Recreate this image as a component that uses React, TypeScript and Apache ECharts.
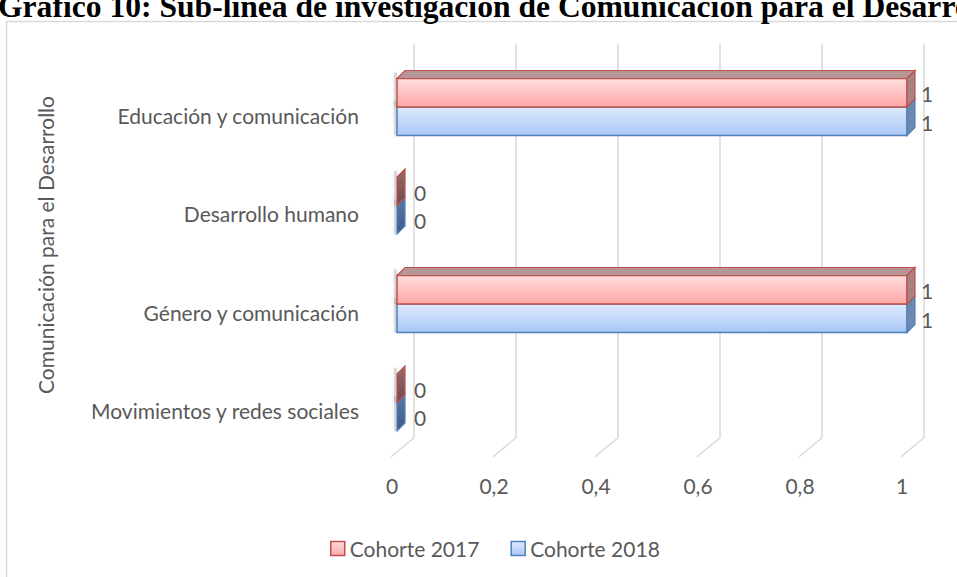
import React, { useEffect, useRef } from "react";
import * as echarts from "echarts";

const titleText = "Gráfico 10: Sub-línea de investigación de Comunicación para el Desarrollo";
const axisTitle = "Comunicación para el Desarrollo";
const categories = [
  "Educación y comunicación",
  "Desarrollo humano",
  "Género y comunicación",
  "Movimientos y redes sociales",
];
const seriesNames = ["Cohorte 2017", "Cohorte 2018"];
const cohorte2017 = [1, 0, 1, 0];
const cohorte2018 = [1, 0, 1, 0];
const ticks = [0, 0.2, 0.4, 0.6, 0.8, 1];

const FONT = "Lato";
const FS = 21;
const TXT = "#595959";
const TITLE_FONT = `bold 31.6px "Liberation Serif"`;
// 3D offsets
const DX = 8, DY = -8; // bar depth
const BX = 17, BY = -14; // back wall
const FX = -6, FY = 5; // floor front edge
const BAR_H = 28.5;

const palettes = [
  {
    front: ["#ffdcdc", "#ffa8a8"],
    stroke: "#c0504d",
    top: "#b69696",
    side: "#a88282",
    zeroSide: ["#9a6a6a", "#6e4a4a"],
  },
  {
    front: ["#dfeafd", "#a8c7f5"],
    stroke: "#4f81bd",
    top: "#8ea3c0",
    side: "#6d89b0",
    zeroSide: ["#5a7aa6", "#3c5a85"],
  },
];

function barRender(pos: number) {
  const pal = palettes[pos];
  return (params: any, api: any) => {
    const v = api.value(0);
    const c = api.value(1);
    const p0 = api.coord([0, c]);
    const p1 = api.coord([v, c]);
    const yTop = pos === 0 ? p0[1] - BAR_H : p0[1];
    const yBot = yTop + BAR_H;
    const x0 = p0[0];
    const x1 = p1[0];
    const children: any[] = [];
    const zero = x1 - x0 < 0.5;
    children.push({
      type: "rect",
      shape: { x: x0 - 3, y: yTop - 6, width: 3, height: BAR_H + 6 },
      style: { fill: "rgba(120,120,120,0.25)", shadowBlur: 4, shadowColor: "rgba(0,0,0,0.35)" },
      silent: true,
    });
    if (!zero) {
      children.push({
        type: "rect",
        shape: { x: x0, y: yTop, width: x1 - x0, height: BAR_H },
        style: {
          fill: new echarts.graphic.LinearGradient(0, 0, 0, 1, [
            { offset: 0, color: pal.front[0] },
            { offset: 1, color: pal.front[1] },
          ]),
          stroke: pal.stroke,
          lineWidth: 1.5,
        },
      });
      if (pos === 0) {
        children.push({
          type: "polygon",
          shape: {
            points: [
              [x0, yTop],
              [x0 + DX, yTop + DY],
              [x1 + DX, yTop + DY],
              [x1, yTop],
            ],
          },
          style: { fill: pal.top, stroke: pal.stroke, lineWidth: 1.2 },
        });
      }
    }
    children.push({
      type: "polygon",
      shape: {
        points: [
          [x1, yTop],
          [x1 + DX, yTop + DY],
          [x1 + DX, yBot + DY],
          [x1, yBot],
        ],
      },
      style: {
        fill: zero
          ? new echarts.graphic.LinearGradient(0, 0, 0, 1, [
              { offset: 0, color: pal.zeroSide[0] },
              { offset: 1, color: pal.zeroSide[1] },
            ])
          : pal.side,
        stroke: pal.stroke,
        lineWidth: 1.2,
      },
    });
    children.push({
      type: "text",
      x: x1 + (zero ? 17 : 14),
      y: (yTop + yBot) / 2 + 1,
      style: {
        text: String(v),
        fill: TXT,
        font: `${FS}px ${FONT}`,
        align: "left",
        verticalAlign: "middle",
      },
    });
    return { type: "group", children };
  };
}

function legendItem(i: number) {
  return {
    name: seriesNames[i],
    itemStyle: {
      color: new echarts.graphic.LinearGradient(0, 0, 0, 1, [
        { offset: 0, color: palettes[i].front[0] },
        { offset: 1, color: palettes[i].front[1] },
      ]),
      borderColor: palettes[i].stroke,
      borderWidth: 1.5,
    },
  };
}

export default function App() {
  const ref = useRef<HTMLDivElement>(null);
  useEffect(() => {
    if (!ref.current) return;
    const chart = echarts.init(ref.current, null, { renderer: "svg" });
    const option: any = {
      animation: false,
      backgroundColor: "#ffffff",
      textStyle: { fontFamily: FONT },
      graphic: [
        {
          type: "rect",
          shape: { x: 6.5, y: 21.5, width: 1200, height: 1200 },
          style: { fill: "none", stroke: "#d9d9d9", lineWidth: 1.5 },
          z: -10,
          silent: true,
        },
        {
          type: "text",
          x: 45,
          y: 245,
          rotation: Math.PI / 2,
          silent: true,
          style: {
            text: axisTitle,
            fill: TXT,
            font: `${FS}px ${FONT}`,
            align: "center",
            verticalAlign: "middle",
          },
        },
        {
          type: "text",
          x: -2,
          y: 6.5,
          z: 10,
          silent: true,
          style: {
            text: titleText,
            font: TITLE_FONT,
            fill: "#000000",
            align: "left",
            verticalAlign: "middle",
          },
        },
      ],
      legend: {
        data: [legendItem(0), legendItem(1)],
        icon: "rect",
        left: 325,
        top: 533,
        itemWidth: 14,
        itemHeight: 14,
        itemGap: 31,
        textStyle: { color: TXT, fontSize: FS, fontFamily: FONT },
        selectedMode: false,
      },
      grid: { left: 397, right: 50, top: 57.75, bottom: 577 - 451.75 },
      xAxis: {
        type: "value",
        min: 0,
        max: 1,
        interval: 0.2,
        axisLine: { show: false },
        axisTick: { show: false },
        splitLine: { show: false },
        axisLabel: {
          color: TXT,
          fontSize: FS,
          fontFamily: FONT,
          margin: 23,
          padding: [0, 10, 0, 0],
          formatter: (v: number) => String(Math.round(v * 10) / 10).replace(".", ","),
        },
      },
      yAxis: {
        type: "category",
        data: categories,
        inverse: true,
        axisLine: { show: false },
        axisTick: { show: false },
        splitLine: { show: false },
        axisLabel: {
          color: TXT,
          fontSize: FS,
          fontFamily: FONT,
          margin: 38,
          verticalAlign: "top",
          lineHeight: 16,
        },
      },
      series: [
        {
          type: "custom",
          name: "grid",
          z: 1,
          silent: true,
          encode: { x: 0, y: 1 },
          data: ticks.map((t) => [t, 0]),
          renderItem: (params: any, api: any) => {
            const cs = params.coordSys;
            const x = api.coord([api.value(0), 0])[0];
            const top = cs.y;
            const bot = cs.y + cs.height;
            return {
              type: "polyline",
              shape: {
                points: [
                  [x + BX, top + BY],
                  [x + BX, bot + BY],
                  [x + FX, bot + FY],
                ],
              },
              style: { stroke: "#d9d9d9", lineWidth: 1.5, fill: null },
            };
          },
        },
        {
          type: "custom",
          name: seriesNames[1],
          z: 2,
          encode: { x: 0, y: 1 },
          itemStyle: { color: palettes[1].front[1] },
          data: cohorte2018.map((v, i) => [v, i]),
          renderItem: barRender(1),
        },
        {
          type: "custom",
          name: seriesNames[0],
          z: 3,
          encode: { x: 0, y: 1 },
          itemStyle: { color: palettes[0].front[1] },
          data: cohorte2017.map((v, i) => [v, i]),
          renderItem: barRender(0),
        },
      ],
    };
    chart.setOption(option);
    return () => chart.dispose();
  }, []);
  return (
    <div
      ref={ref}
      style={{ position: "absolute", left: 0, top: 0, width: 957, height: 577 }}
    />
  );
}
